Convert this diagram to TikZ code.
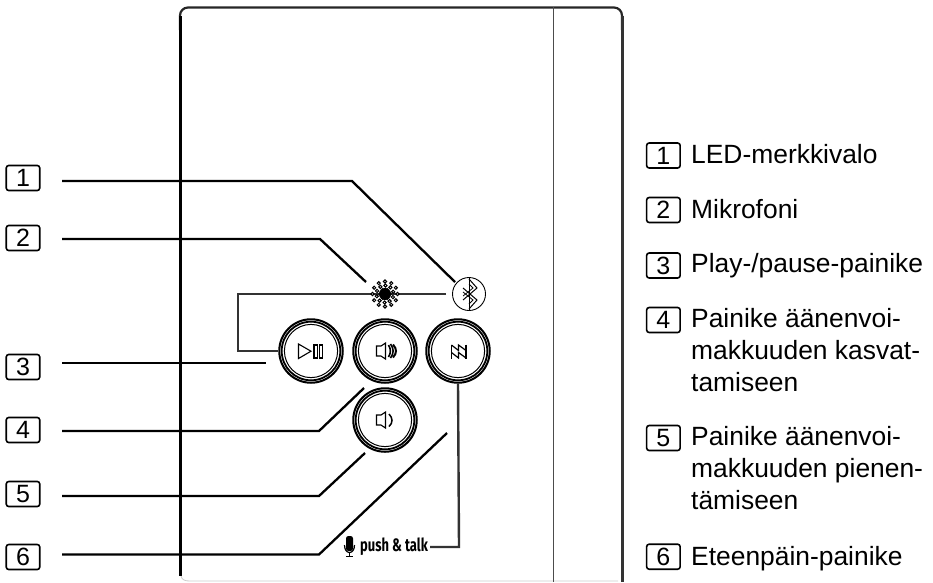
\documentclass[tikz,border=0pt]{standalone}
\usepackage{fontspec}
\usetikzlibrary{calc}
\setmainfont{Liberation Sans}
\newfontfamily\pttfont{Fira Sans}
\begin{document}
\begin{tikzpicture}[x=1pt,y=-1pt,
  tagbox/.style={draw=black,line width=1.6pt,rounded corners=2.5pt,minimum width=33.5pt,minimum height=25pt,inner sep=0pt,font=\fontsize{25}{25}\selectfont},
  legend/.style={anchor=base west,align=left,inner sep=0pt,font=\fontsize{26.4}{32}\selectfont},
  lead/.style={line width=2.3pt,black},
  darklead/.style={line width=2.4pt,black!80},
  btn/.style={circle,draw=black,line width=2pt,minimum size=63.5pt,inner sep=0pt},
  glyph/.style={line width=0.8pt,black,line join=miter}]
\useasboundingbox (0,0) rectangle (933,582);
% housing
\draw[line width=2.2pt,black!85,rounded corners=8pt] (180,30) -- (180,7.5) -- (622,7.5) -- (622,30);
\draw[line width=3pt,black] (180,16) -- (180,576);
\draw[line width=3pt,black!80] (622,16) -- (622,582);
\draw[line width=0.8pt,black!20] (181,576) .. controls (182,580) and (185,581) .. (190,581) -- (618,581);
\draw[line width=1.3pt,black!70] (553.5,7) -- (553.5,582);
% buttons
\foreach \n/\x/\y in {play/311/351,up/385/351,next/458/351,down/385/420}{
  \node[btn] (\n) at (\x,\y) {};
  \draw[line width=1pt] (\n) circle (26.6pt);
  \draw[line width=1.8pt] (\n) circle (29.3pt);
}
% bluetooth
\node[circle,draw=black,line width=0.9pt,minimum size=33pt,inner sep=0pt] (bt) at (469,294) {};
\draw[glyph,line width=1pt] (469,277.5) -- (469,310.5);
\draw[glyph,line width=1pt] (469,279) -- (477,288) -- (463,300);
\draw[glyph,line width=1pt] (469,309) -- (477,300) -- (463,288);
\draw[glyph] (469,284) -- (473,288) -- (463,296);
\draw[glyph] (469,304) -- (473,300) -- (463,292);
% play/pause
\draw[glyph,line width=1.1pt] (298.5,344) -- (298.5,358.5) -- (311,351.2) -- cycle;
\draw[glyph,line width=1.1pt] (314,345) rectangle (317.5,358);
\draw[glyph,line width=1.1pt] (319.5,345) rectangle (322.8,358);
% volume up
\draw[glyph,line width=1.1pt] (376.5,346) -- (376.5,356) -- (381,356) -- (385.5,359) -- (385.5,343) -- (381,346) -- cycle;
\draw[line width=1.6pt] (388.5,345) .. controls (391,349) and (391,353) .. (388.5,357);
\draw[line width=1.6pt] (390.5,344) .. controls (394,349) and (394,353) .. (390.5,358);
\draw[line width=2pt] (393,344.5) .. controls (397,349) and (397,353) .. (393,357.5);
% volume down
\draw[glyph,line width=1.1pt] (376.5,415) -- (376.5,425) -- (381,425) -- (385.5,428) -- (385.5,412) -- (381,415) -- cycle;
\draw[line width=1.5pt] (389,414) .. controls (393,418) and (393,423) .. (389,426.5);
% next
\draw[glyph,line width=1.2pt] (451.5,344.5) -- (451.5,358.5) (466,344.5) -- (466,358.5);
\draw[glyph,line width=1.2pt] (451.5,345) -- (458.5,350.5) -- (458.5,345) -- (466,350.5);
\draw[glyph,line width=1.2pt] (451.5,352.5) -- (458.5,358) -- (458.5,352.5) -- (466,358);
% leader wires
\coordinate (wa) at (446,294);
\coordinate (wb) at (238,294);
\coordinate (wc) at (238,351);
\draw[darklead] (wa) -- (wb) -- (wc) -- (play.west);
\node[inner sep=0pt,anchor=west,font=\pttfont\bfseries\fontsize{18}{18}\selectfont] (ptt) at (360,547) {\scalebox{0.72}[1]{push \& talk}};
\coordinate (wd) at (459,547);
\draw[darklead] (next.south) -- (wd) -- ($(ptt.east)+(2,0)$);
% microphone
\node[circle,minimum size=28pt,inner sep=0pt] (micr) at (385,294) {};
\foreach \r/\k/\o in {4.5/6/0,8.5/10/15,12.5/12/0}{
  \foreach \i in {1,...,\k}{
    \draw[line width=1pt,fill=white] ($(385,294)+({\o+\i*360/\k}:\r pt)$) circle (1.6pt);
  }
}
\fill (385,294) circle (6pt);
% ptt mic icon
\fill[black,rounded corners=2.4pt] (346,536) rectangle (353,551);
\draw[line width=1.2pt] (344.5,545) .. controls (344.5,555) and (354.5,555) .. (354.5,545);
\draw[line width=1.4pt] (349.5,552) -- (349.5,556) (346,556.5) -- (353,556.5);
% left tags
\node[tagbox] (a1) at (23,178) {1};
\node[tagbox] (a2) at (23,238) {2};
\node[tagbox] (a3) at (23,367) {3};
\node[tagbox] (a4) at (23,430) {4};
\node[tagbox] (a5) at (23,494) {5};
\node[tagbox] (a6) at (23,557) {6};
\coordinate (s1) at (62,181); \coordinate (b1) at (352,181); \coordinate (e1) at (455,282);
\coordinate (s2) at (62,239); \coordinate (b2) at (320,239); \coordinate (e2) at (366,282);
\coordinate (s3) at (62,363); \coordinate (e3) at (266,363);
\coordinate (s4) at (62,431); \coordinate (b4) at (319,431); \coordinate (e4) at (364,388);
\coordinate (s5) at (62,496); \coordinate (b5) at (319,496); \coordinate (e5) at (365,453);
\coordinate (s6) at (62,554.5); \coordinate (b6) at (319,554.5); \coordinate (e6) at (447,433);
\draw[lead] (s1) -- (b1) -- (e1);
\draw[lead] (s2) -- (b2) -- (e2);
\draw[lead] (s3) -- (e3);
\draw[lead] (s4) -- (b4) -- (e4);
\draw[lead] (s5) -- (b5) -- (e5);
\draw[lead] (s6) -- (b6) -- (e6);
% right legend
\node[tagbox] (r1) at (663.4,155.5) {1};
\node[tagbox] (r2) at (663.4,210) {2};
\node[tagbox] (r3) at (663.4,265.5) {3};
\node[tagbox] (r4) at (663.4,320) {4};
\node[tagbox] (r5) at (663.4,438) {5};
\node[tagbox] (r6) at (663.4,556.7) {6};
\node[legend] (t1) at (691,163.3) {LED-merkkivalo};
\node[legend] (t2) at (691,218.5) {Mikrofoni};
\node[legend] (t3) at (691,272.8) {Play-/pause-painike};
\node[legend,anchor=north west] (t4) at (691,308) {Painike äänenvoi-\\makkuuden kasvat-\\tamiseen};
\node[legend,anchor=north west] (t5) at (691,426) {Painike äänenvoi-\\makkuuden pienen-\\tämiseen};
\node[legend] (t6) at (691,565) {Eteenpäin-painike};
\end{tikzpicture}
\end{document}
